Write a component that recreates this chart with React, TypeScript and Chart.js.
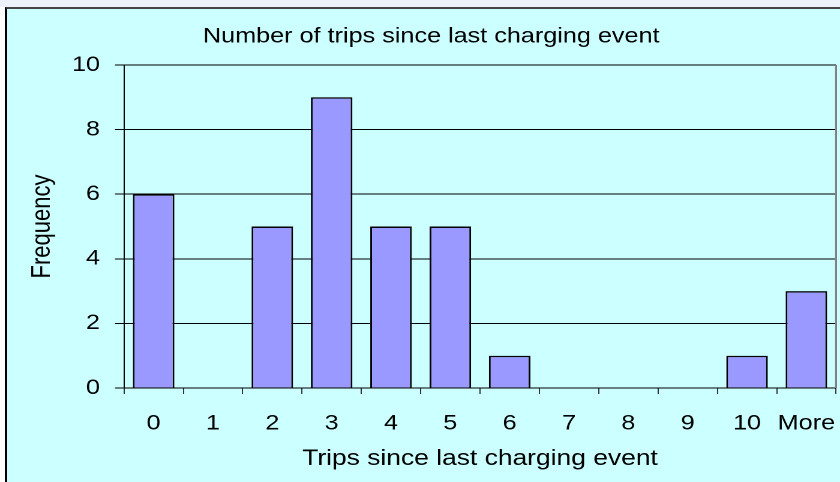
import React, { useEffect, useRef } from 'react';
import { Chart, registerables } from 'chart.js';

Chart.register(...registerables);

const categories = ['0', '1', '2', '3', '4', '5', '6', '7', '8', '9', '10', 'More'];
const frequency = [6, 0, 5, 9, 5, 5, 1, 0, 0, 0, 1, 3];
const yTickValues = [0, 2, 4, 6, 8, 10];
const chartTitle = 'Number of trips since last charging event';
const xAxisTitle = 'Trips since last charging event';
const yAxisTitle = 'Frequency';

const W = 840;
const H = 482;
const STRETCH = 1.2;
const IW = W / STRETCH;
const FONT = '"Liberation Sans", Arial, Helvetica, sans-serif';

const plotBorder = {
  id: 'plotBorder',
  afterDraw(chart: any) {
    const { ctx, chartArea } = chart;
    ctx.save();
    ctx.strokeStyle = '#808080';
    ctx.lineWidth = 1.6;
    ctx.beginPath();
    ctx.moveTo(chartArea.right, chartArea.top);
    ctx.lineTo(chartArea.right, chartArea.bottom);
    ctx.stroke();
    ctx.restore();
  },
};

export default function App() {
  const ref = useRef<HTMLCanvasElement | null>(null);

  useEffect(() => {
    if (!ref.current) return;
    const chart = new Chart(ref.current, {
      type: 'bar',
      data: {
        labels: categories,
        datasets: [
          {
            data: frequency,
            backgroundColor: '#9999FF',
            borderColor: '#000000',
            borderWidth: 1.5,
            categoryPercentage: 1,
            barPercentage: 0.7,
          },
        ],
      },
      plugins: [plotBorder],
      options: {
        responsive: false,
        animation: false,
        devicePixelRatio: 2,
        layout: { padding: { top: 10, left: 22, right: 3.3, bottom: 0 } },
        plugins: {
          legend: { display: false },
          tooltip: { enabled: false },
          title: {
            display: true,
            text: chartTitle,
            color: '#000',
            font: { family: FONT, size: 21, weight: 'normal' },
            padding: { top: 14, bottom: 15.8 },
          },
        },
        scales: {
          x: {
            grid: {
              display: true,
              drawOnChartArea: false,
              drawTicks: true,
              tickLength: 6,
              tickColor: '#333',
              offset: true,
            },
            border: { display: true, color: '#000', width: 1 },
            ticks: {
              color: '#000',
              font: { family: FONT, size: 21 },
              padding: 17,
              maxRotation: 0,
              autoSkip: false,
            },
            title: {
              display: true,
              text: xAxisTitle,
              color: '#000',
              font: { family: FONT, size: 22 },
              padding: { top: 0, bottom: 10 },
            },
            afterFit(scale: any) {
              scale.height = 94;
              scale.paddingLeft = 0;
              scale.paddingRight = 0;
            },
          },
          y: {
            min: 0,
            max: 10,
            grid: {
              color: '#000',
              lineWidth: 1,
              drawTicks: true,
              tickLength: 7.5,
              tickColor: '#000',
            },
            border: { display: true, color: '#000', width: 1 },
            ticks: {
              color: '#000',
              font: { family: FONT, size: 21 },
              padding: 12.5,
            },
            afterBuildTicks(scale: any) {
              scale.ticks = yTickValues.map((v) => ({ value: v }));
            },
            title: {
              display: true,
              text: yAxisTitle,
              color: '#000',
              font: { family: FONT, size: 22 },
              padding: { top: 0, bottom: 0 },
            },
            afterFit(scale: any) {
              scale.width = 81.3;
              scale.paddingTop = 0;
              scale.paddingBottom = 0;
            },
          },
        },
      },
    } as any);
    return () => chart.destroy();
  }, []);

  return (
    <div
      style={{
        position: 'fixed',
        left: 0,
        top: 0,
        width: W,
        height: H,
        overflow: 'hidden',
        background: '#ffffff',
      }}
    >
      <div style={{ position: 'absolute', left: 0, top: 0, width: W, height: 7, background: '#EEF1FA' }} />
      <div
        style={{
          position: 'absolute',
          left: 5,
          top: 7,
          width: W + 40,
          height: H + 40,
          background: '#CCFFFF',
          borderLeft: '2px solid #000',
          borderTop: '2px solid #444',
        }}
      />
      <canvas
        ref={ref}
        width={IW}
        height={H}
        style={{
          position: 'absolute',
          left: 0,
          top: 0,
          transformOrigin: '0 0',
          transform: `scaleX(${STRETCH})`,
        }}
      />
    </div>
  );
}
